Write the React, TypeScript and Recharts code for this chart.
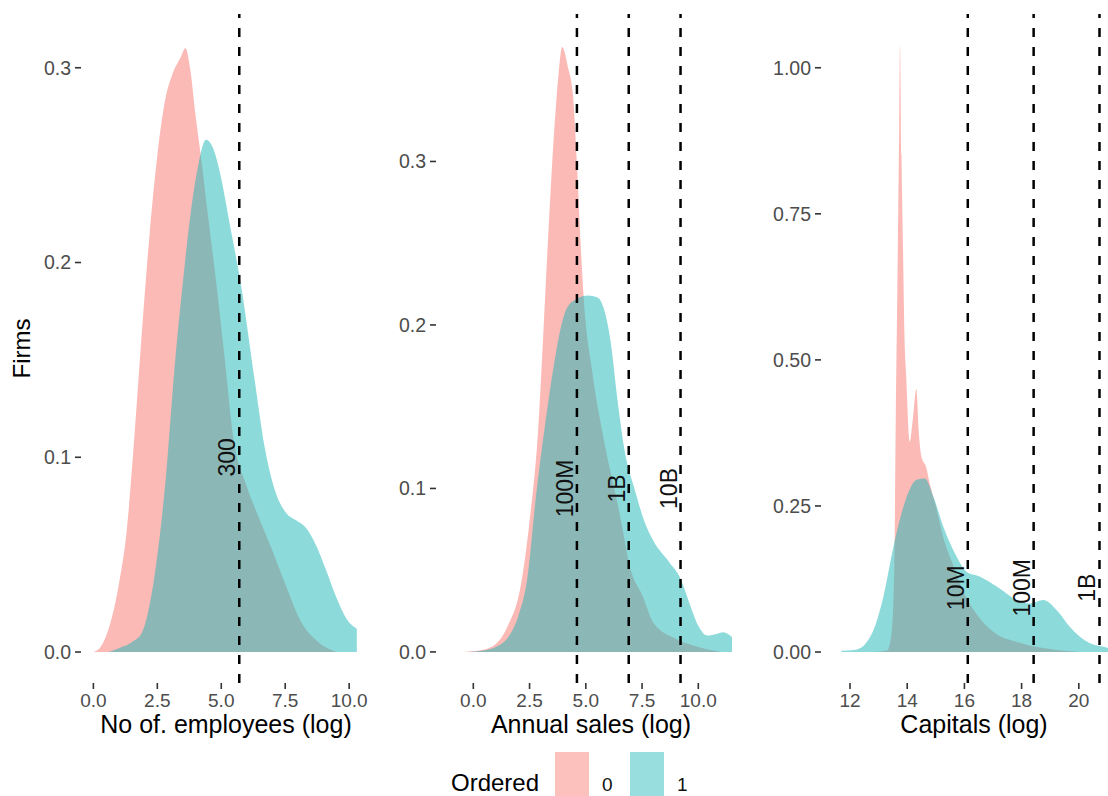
import { ComposedChart, Area, XAxis, YAxis, ReferenceLine, ReferenceDot } from 'recharts'

const FONT = '"Liberation Sans", Arial, Helvetica, sans-serif'
const PINK = '#F8766D'
const TEAL = '#1CB6B8'
const INK = '#4D4D4D'

// No of. employees (log)
const empX0 = [0.0, 0.3, 0.6, 1.0, 1.3, 1.6, 1.9, 2.2, 2.5, 2.8, 3.1, 3.4, 3.6, 3.8, 4.0, 4.2, 4.5, 4.8, 5.1, 5.5, 6.0, 6.5, 7.0, 7.5, 8.1, 8.8, 9.5]
const empY0 = [0, 0.003, 0.012, 0.035, 0.062, 0.11, 0.165, 0.215, 0.255, 0.283, 0.297, 0.305, 0.31, 0.298, 0.275, 0.255, 0.222, 0.19, 0.155, 0.108, 0.085, 0.068, 0.052, 0.035, 0.016, 0.005, 0]
const empX1 = [0.6, 1.0, 1.5, 1.9, 2.4, 2.8, 3.2, 3.5, 3.8, 4.1, 4.4, 4.7, 5.0, 5.3, 5.8, 6.3, 6.7, 7.1, 7.5, 8.0, 8.3, 8.7, 9.1, 9.5, 9.9, 10.3]
const empY1 = [0, 0.002, 0.005, 0.01, 0.04, 0.085, 0.15, 0.19, 0.225, 0.25, 0.263, 0.258, 0.243, 0.222, 0.186, 0.14, 0.105, 0.083, 0.072, 0.067, 0.064, 0.055, 0.042, 0.028, 0.017, 0.012]
const empXTicks = [0, 2.5, 5, 7.5, 10]
const empYTicks = [0, 0.1, 0.2, 0.3]
const empCuts = [Math.log(300)]
const empCutLabels = ['300']

// Annual sales (log)
const salesX0 = [-0.5, 0.3, 0.8, 1.5, 2.1, 2.5, 2.9, 3.05, 3.35, 3.6, 3.8, 3.95, 4.2, 4.42, 4.6, 4.75, 4.9, 5.3, 5.8, 6.5, 7.0, 7.5, 8.0, 9.0, 10.0, 11.0]
const salesY0 = [0, 0.001, 0.003, 0.015, 0.04, 0.08, 0.14, 0.178, 0.26, 0.32, 0.355, 0.37, 0.358, 0.342, 0.3, 0.255, 0.218, 0.17, 0.13, 0.085, 0.05, 0.035, 0.018, 0.008, 0.003, 0]
const salesX1 = [-0.2, 0.5, 1.0, 1.6, 2.0, 2.4, 2.8, 3.2, 3.6, 3.85, 4.15, 4.6, 5.1, 5.5, 5.8, 6.1, 6.4, 6.7, 7.2, 7.6, 8.0, 8.7, 9.2, 9.6, 10.0, 10.4, 10.8, 11.1, 11.5]
const salesY1 = [0, 0.001, 0.003, 0.01, 0.022, 0.045, 0.097, 0.14, 0.177, 0.196, 0.21, 0.216, 0.218, 0.217, 0.21, 0.19, 0.155, 0.125, 0.098, 0.08, 0.068, 0.055, 0.045, 0.03, 0.016, 0.01, 0.011, 0.012, 0.009]
const salesXTicks = [0, 2.5, 5, 7.5, 10]
const salesYTicks = [0, 0.1, 0.2, 0.3]
const salesCuts = [Math.log(100), Math.log(1000), Math.log(10000)]
const salesCutLabels = ['100M', '1B', '10B']

// Capitals (log)
const capX0 = [12.8, 13.3, 13.45, 13.55, 13.6, 13.65, 13.72, 13.75, 13.8, 13.85, 13.9, 13.97, 14.09, 14.2, 14.32, 14.4, 14.5, 14.66, 14.78, 15.0, 15.3, 15.6, 16.0, 16.5, 17.0, 18.0, 19.0, 20.0]
const capY0 = [0, 0.003, 0.03, 0.15, 0.4, 0.6, 0.9, 1.04, 0.85, 0.7, 0.55, 0.466, 0.36, 0.4, 0.45, 0.38, 0.334, 0.317, 0.29, 0.25, 0.19, 0.15, 0.1, 0.06, 0.035, 0.015, 0.005, 0]
const capX1 = [11.7, 12.2, 12.5, 12.8, 13.17, 13.52, 13.87, 14.1, 14.33, 14.62, 14.91, 15.26, 15.73, 16.08, 16.55, 17.13, 17.83, 18.29, 18.76, 19.22, 19.69, 20.39, 20.86, 21.2]
const capY1 = [0.002, 0.004, 0.012, 0.035, 0.095, 0.18, 0.249, 0.28, 0.295, 0.297, 0.266, 0.215, 0.163, 0.137, 0.129, 0.112, 0.089, 0.083, 0.089, 0.072, 0.043, 0.015, 0.009, 0.005]
const capXTicks = [12, 14, 16, 18, 20]
const capYTicks = [0, 0.25, 0.5, 0.75, 1.0]
const capCuts = [Math.log(1e7), Math.log(1e8), Math.log(1e9)]
const capCutLabels = ['10M', '100M', '1B']

const legendTitle = 'Ordered'
const legendLabels = ['0', '1']

function toPoints(xs: number[], ys: number[]) {
  return xs.map((x, i) => ({ x, y: ys[i] }))
}

function CutLabel(props: any) {
  const vb = props.viewBox ?? props
  const x = vb.x + (vb.width ?? 0) / 2 - 4
  const y = vb.y + (vb.height ?? 0) / 2
  return (
    <text x={x} y={y} transform={`rotate(-90 ${x} ${y})`} textAnchor="middle" fontSize={23} fill="#111">
      {props.text}
    </text>
  )
}

function FirmsLabel(props: any) {
  const vb = props.viewBox
  const x = vb.x + 30
  const y = vb.y + vb.height / 2
  return (
    <text x={x} y={y} transform={`rotate(-90 ${x} ${y})`} textAnchor="middle" fontSize={24} fill="#000">
      Firms
    </text>
  )
}

interface PanelProps {
  left: number
  width: number
  yAxisWidth: number
  x0: number[]
  y0: number[]
  x1: number[]
  y1: number[]
  xDomain: [number, number]
  yDomain: [number, number]
  xTicks: number[]
  yTicks: number[]
  xDigits: number
  yDigits: number
  cuts: number[]
  cutLabels: string[]
  labelY: number
  title: string
  showFirms?: boolean
}

function Panel(p: PanelProps) {
  return (
    <div style={{ position: 'absolute', left: p.left, top: 0 }}>
      <ComposedChart width={p.width} height={750} margin={{ top: 14, right: 2, bottom: 0, left: 0 }}>
        <XAxis
          dataKey="x"
          type="number"
          domain={p.xDomain}
          allowDataOverflow
          ticks={p.xTicks}
          tickFormatter={(v: number) => v.toFixed(p.xDigits)}
          axisLine={false}
          tickLine={{ stroke: '#333', strokeWidth: 1.6 }}
          tickSize={6}
          tickMargin={5}
          tick={{ fill: INK, fontSize: 19 }}
          height={67}
          label={{ value: p.title, position: 'insideBottom', offset: 17, fill: '#000', fontSize: 25 }}
        />
        <YAxis
          type="number"
          domain={p.yDomain}
          allowDataOverflow
          ticks={p.yTicks}
          tickFormatter={(v: number) => v.toFixed(p.yDigits)}
          axisLine={false}
          tickLine={{ stroke: '#333', strokeWidth: 1.6 }}
          tickSize={6}
          tickMargin={4}
          tick={{ fill: INK, fontSize: 19.5 }}
          width={p.yAxisWidth}
          label={p.showFirms ? <FirmsLabel /> : undefined}
        />
        <Area
          data={toPoints(p.x0, p.y0)}
          dataKey="y"
          type="monotone"
          fill={PINK}
          fillOpacity={0.5}
          stroke="none"
          baseValue={0}
          isAnimationActive={false}
        />
        <Area
          data={toPoints(p.x1, p.y1)}
          dataKey="y"
          type="monotone"
          fill={TEAL}
          fillOpacity={0.5}
          stroke="none"
          baseValue={0}
          isAnimationActive={false}
        />
        {p.cuts.map((c) => (
          <ReferenceLine key={'l' + c} x={c} stroke="#000" strokeWidth={2.5} strokeDasharray="9 10" />
        ))}
        {p.cuts.map((c, i) => (
          <ReferenceDot
            key={'d' + c}
            x={c}
            y={p.labelY}
            r={0}
            fill="none"
            stroke="none"
            label={<CutLabel text={p.cutLabels[i]} />}
          />
        ))}
      </ComposedChart>
    </div>
  )
}

export default function App() {
  return (
    <div
      style={{
        position: 'absolute',
        left: 0,
        top: 0,
        width: 1108,
        height: 796,
        overflow: 'hidden',
        background: '#fff',
        fontFamily: FONT,
      }}
    >
      <Panel
        left={0}
        width={373}
        yAxisWidth={81}
        x0={empX0}
        y0={empY0}
        x1={empX1}
        y1={empY1}
        xDomain={[-0.4843, 10.854]}
        yDomain={[-0.0159, 0.3276]}
        xTicks={empXTicks}
        yTicks={empYTicks}
        xDigits={1}
        yDigits={1}
        cuts={empCuts}
        cutLabels={empCutLabels}
        labelY={0.1}
        title="No of. employees (log)"
        showFirms
      />
      <Panel
        left={380}
        width={368}
        yAxisWidth={56}
        x0={salesX0}
        y0={salesY0}
        x1={salesX1}
        y1={salesY1}
        xDomain={[-1.658, 12.12]}
        yDomain={[-0.019, 0.3902]}
        xTicks={salesXTicks}
        yTicks={salesYTicks}
        xDigits={1}
        yDigits={1}
        cuts={salesCuts}
        cutLabels={salesCutLabels}
        labelY={0.1}
        title="Annual sales (log)"
      />
      <Panel
        left={760}
        width={369}
        yAxisWidth={61}
        x0={capX0}
        y0={capY0}
        x1={capX1}
        y1={capY1}
        xDomain={[10.986, 21.685]}
        yDomain={[-0.053, 1.092]}
        xTicks={capXTicks}
        yTicks={capYTicks}
        xDigits={0}
        yDigits={2}
        cuts={capCuts}
        cutLabels={capCutLabels}
        labelY={0.11}
        title="Capitals (log)"
      />
      <svg style={{ position: 'absolute', left: 0, top: 740 }} width={1108} height={56}>
        <text x={451} y={51} fontSize={24} fill="#000">
          {legendTitle}
        </text>
        {legendLabels.map((lab, i) => (
          <g key={lab}>
            <rect x={555 + i * 75} y={12} width={34} height={50} fill={i === 0 ? PINK : TEAL} fillOpacity={0.45} />
            <text x={602 + i * 75} y={51} fontSize={19} fill="#111">
              {lab}
            </text>
          </g>
        ))}
      </svg>
    </div>
  )
}
